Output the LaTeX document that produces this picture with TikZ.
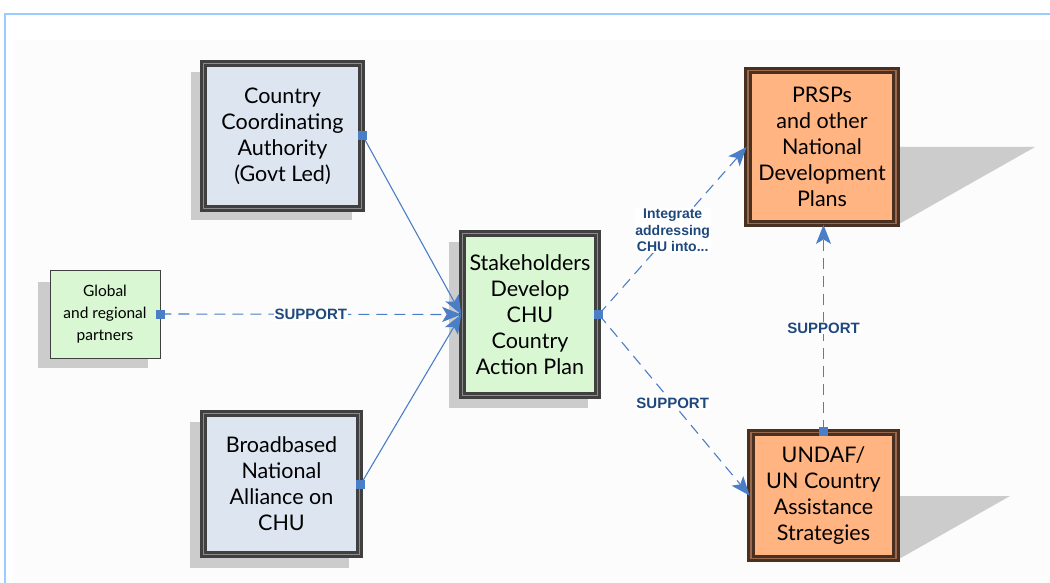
\documentclass[tikz,border=0pt]{standalone}
\usepackage{fontspec}
\setmainfont{Lato}
\newfontfamily\labfont{Liberation Sans}
\usetikzlibrary{arrows.meta,backgrounds}
\definecolor{frameblue}{HTML}{99CCFF}
\definecolor{shadowgray}{HTML}{CCCCCC}
\definecolor{bluefill}{HTML}{DDE5F1}
\definecolor{greenfill}{HTML}{D9F7D2}
\definecolor{orangefill}{HTML}{FFB482}
\definecolor{linkblue}{HTML}{4A7EC7}
\definecolor{labblue}{HTML}{1F497D}
\definecolor{boxedge}{HTML}{404040}
\definecolor{boxmid}{HTML}{8C8C8C}
\definecolor{brownedge}{HTML}{4A3020}
\definecolor{brownmid}{HTML}{9A6A4E}
\tikzset{
  x=1pt, y=-1pt,
  box/.style={rectangle, inner sep=0pt, align=center, text=black,
    font=\fontsize{21.5}{26}\selectfont},
  bluebox/.style={box, fill=bluefill, draw=boxedge, line width=2.8pt, double=boxmid, double distance=1.6pt},
  greenbox/.style={box, fill=greenfill, draw=boxedge, line width=2.6pt, double=boxmid, double distance=1.4pt},
  smallbox/.style={box, fill=greenfill, draw=boxedge, line width=0.9pt, font=\fontsize{15.5}{22}\selectfont},
  orangebox/.style={box, fill=orangefill, draw=brownedge, line width=2.8pt, double=brownmid, double distance=1.6pt},
  link/.style={draw=linkblue, line width=1.1pt, -{Stealth[length=19pt,width=15pt,inset=4.5pt]}},
  dashlink/.style={link, dash pattern=on 11pt off 7pt},
  marker/.style={fill=linkblue},
  lab/.style={font=\labfont\bfseries\fontsize{15}{16.5}\selectfont, text=labblue, fill=white, inner sep=1pt, align=center},
  labsmall/.style={lab, font=\labfont\bfseries\fontsize{14}{16.5}\selectfont},
}
\begin{document}
\begin{tikzpicture}
\useasboundingbox (0,0) rectangle (1050,583);

% nodes
\node[bluebox, minimum width=158pt, minimum height=145pt] (cca) at (282.5,136) {Country\\Coordinating\\Authority\\(Govt Led)};
\node[smallbox, minimum width=110pt, minimum height=88pt] (glob) at (105,314) {Global\\and regional\\partners};
\node[greenbox, minimum width=135pt, minimum height=162pt] (stk) at (530,314.5) {Stakeholders\\Develop\\CHU\\Country\\Action Plan};
\node[bluebox, minimum width=156pt, minimum height=141pt] (bna) at (281.5,484) {Broadbased\\National\\Alliance on\\CHU};
\node[orangebox, minimum width=148pt, minimum height=153pt] (prsp) at (822,147) {PRSPs\\and other\\National\\Development\\Plans};
\node[orangebox, minimum width=145pt, minimum height=126pt] (undaf) at (823.5,495.5) {UNDAF/\\UN Country\\Assistance\\Strategies};

% background and shadows
\begin{scope}[on background layer]
\fill[white] (0,0) rectangle (1050,583);
\fill[black!1] (14,40) rectangle (1050,583);
\draw[frameblue, line width=2pt] (4.5,583) -- (4.5,14) -- (1050,14);
\fill[shadowgray] ([shift={(-11,10)}]cca.north west) rectangle ([shift={(-11,10)}]cca.south east);
\fill[shadowgray] ([shift={(-12,12)}]glob.north west) rectangle ([shift={(-12,10)}]glob.south east);
\fill[shadowgray] ([shift={(-12,10)}]stk.north west) rectangle ([shift={(-11,11)}]stk.south east);
\fill[shadowgray] ([shift={(-12,10)}]bna.north west) rectangle ([shift={(-12,12)}]bna.south east);
\fill[shadowgray] (prsp.east) -- (1035,147) -- (prsp.south east) -- cycle;
\fill[shadowgray] (undaf.east |- 0,496) -- (1010,496) -- (undaf.south east) -- cycle;
\end{scope}

% connectors
\draw[link] (cca.east) -- (stk.west);
\draw[link] (bna.east) -- (stk.west);
\draw[dashlink] (glob.east) -- node[lab, pos=0.5] {SUPPORT} (stk.west);
\draw[dashlink] (stk.east) -- node[labsmall, pos=0.5] {Integrate\\addressing\\CHU into...} (prsp.west);
\draw[dashlink] (stk.east) -- node[lab, pos=0.49] {SUPPORT} (undaf.west);
\draw[dashlink] (undaf.north) -- node[lab, pos=0.5] {SUPPORT} (undaf.north |- prsp.south);

% markers
\foreach \p in {cca.east, bna.east, glob.east, stk.east, undaf.north}
  \fill[marker] ([shift={(-4.5,-4.5)}]\p) rectangle ([shift={(4.5,4.5)}]\p);
\end{tikzpicture}
\end{document}
